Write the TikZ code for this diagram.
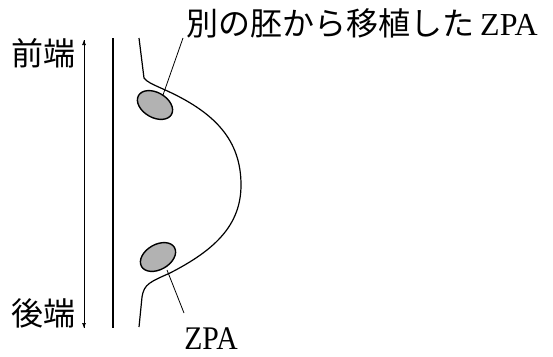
\documentclass[tikz,border=0pt]{standalone}
\usepackage{fontspec}
\setmainfont{Liberation Serif}
\newfontfamily\jpfont{Noto Sans CJK JP}
\usetikzlibrary{arrows.meta,shapes.geometric,positioning}

\begin{document}
\begin{tikzpicture}[x=1pt,y=-1pt,
    lbl/.style={inner sep=0pt, font=\jpfont\fontsize{32}{34}\selectfont},
    zpa/.style={ellipse, draw, line width=1.4pt, fill=gray!60,
      minimum width=38pt, minimum height=25pt, inner sep=0pt}]
  \useasboundingbox (0,0) rectangle (553,356);
  % Define points
  \coordinate (T) at (84,40);
  \coordinate (B) at (84,328);
  \coordinate (ptop) at (163,95);
  \coordinate (qtop) at (183,38);
  \coordinate (pbot) at (167,270);
  \coordinate (qbot) at (184,313);
  % Draw the axis of the limb bud
  \draw[line width=0.6pt, -{Latex[length=5pt,width=4pt]}] (B) -- (T);
  \draw[line width=0.6pt, -{Latex[length=5pt,width=4pt]}] (T) -- (B);
  \draw[line width=1.2pt] (113,38) -- (113,328);
  % Outline of the bud
  \draw[line width=1.2pt] (139,38) -- (144,78)
    .. controls (147,82) and (152,84) .. (163,89)
    .. controls (215,112) and (241,140) .. (241,185)
    .. controls (241,225) and (215,250) .. (170,273)
    .. controls (150,282) and (144,284) .. (142,297) -- (139,327);
  % Zones of polarizing activity
  \node[zpa, rotate=-30] (ztop) at (155,105) {};
  \node[zpa, rotate=30] (zbot) at (158,257) {};
  % Labels
  \node[lbl, anchor=east] (front) at (76,53) {前端};
  \node[lbl, anchor=east] (back) at (76,313) {後端};
  \node[lbl, anchor=west] (graft) at (186,23)
    {別の胚から移植した\hspace{6pt}{\fontspec{Liberation Serif}\fontsize{32}{32}\selectfont ZPA}};
  \node[inner sep=0pt, text depth=0pt, font=\fontsize{33}{33}\selectfont, xscale=0.9, anchor=base] (own) at (211,349) {ZPA};
  \draw[line width=0.8pt] (ptop) -- (qtop);
  \draw[line width=0.8pt] (pbot) -- (qbot);
\end{tikzpicture}
\end{document}
